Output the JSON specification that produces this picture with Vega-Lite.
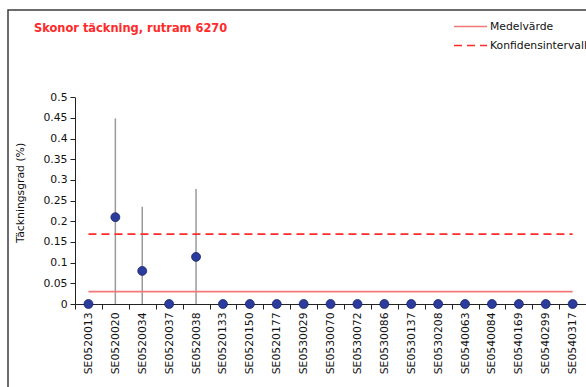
{
  "$schema": "https://vega.github.io/schema/vega-lite/v6.json",
  "width": 600,
  "height": 400,
  "autosize": "none",
  "padding": {"left": 8, "top": 10, "right": 0, "bottom": 0},
  "background": "white",
  "config": {
    "view": {"stroke": "#3c3c3c", "strokeWidth": 1.5, "fill": "white"},
    "font": "DejaVu Sans"
  },
  "title": {
    "text": "Skonor täckning, rutram 6270",
    "anchor": "start",
    "frame": "group",
    "orient": "top",
    "offset": 0,
    "dx": 26,
    "dy": 34.3,
    "baseline": "alphabetic",
    "font": "DejaVu Sans Condensed, Liberation Sans",
    "fontSize": 12.7,
    "fontWeight": "bold",
    "color": "#FF2A2A"
  },
  "data": {
    "values": [
      {"station": "SE0520013", "varde": 0, "lo": null, "hi": null, "Medelvärde": 0.03, "Konfidensintervall": 0.169},
      {"station": "SE0520020", "varde": 0.21, "lo": 0, "hi": 0.449, "Medelvärde": 0.03, "Konfidensintervall": 0.169},
      {"station": "SE0520034", "varde": 0.08, "lo": 0, "hi": 0.235, "Medelvärde": 0.03, "Konfidensintervall": 0.169},
      {"station": "SE0520037", "varde": 0, "lo": null, "hi": null, "Medelvärde": 0.03, "Konfidensintervall": 0.169},
      {"station": "SE0520038", "varde": 0.114, "lo": 0, "hi": 0.278, "Medelvärde": 0.03, "Konfidensintervall": 0.169},
      {"station": "SE0520133", "varde": 0, "lo": null, "hi": null, "Medelvärde": 0.03, "Konfidensintervall": 0.169},
      {"station": "SE0520150", "varde": 0, "lo": null, "hi": null, "Medelvärde": 0.03, "Konfidensintervall": 0.169},
      {"station": "SE0520177", "varde": 0, "lo": null, "hi": null, "Medelvärde": 0.03, "Konfidensintervall": 0.169},
      {"station": "SE0530029", "varde": 0, "lo": null, "hi": null, "Medelvärde": 0.03, "Konfidensintervall": 0.169},
      {"station": "SE0530070", "varde": 0, "lo": null, "hi": null, "Medelvärde": 0.03, "Konfidensintervall": 0.169},
      {"station": "SE0530072", "varde": 0, "lo": null, "hi": null, "Medelvärde": 0.03, "Konfidensintervall": 0.169},
      {"station": "SE0530086", "varde": 0, "lo": null, "hi": null, "Medelvärde": 0.03, "Konfidensintervall": 0.169},
      {"station": "SE0530137", "varde": 0, "lo": null, "hi": null, "Medelvärde": 0.03, "Konfidensintervall": 0.169},
      {"station": "SE0530208", "varde": 0, "lo": null, "hi": null, "Medelvärde": 0.03, "Konfidensintervall": 0.169},
      {"station": "SE0540063", "varde": 0, "lo": null, "hi": null, "Medelvärde": 0.03, "Konfidensintervall": 0.169},
      {"station": "SE0540084", "varde": 0, "lo": null, "hi": null, "Medelvärde": 0.03, "Konfidensintervall": 0.169},
      {"station": "SE0540169", "varde": 0, "lo": null, "hi": null, "Medelvärde": 0.03, "Konfidensintervall": 0.169},
      {"station": "SE0540299", "varde": 0, "lo": null, "hi": null, "Medelvärde": 0.03, "Konfidensintervall": 0.169},
      {"station": "SE0540317", "varde": 0, "lo": null, "hi": null, "Medelvärde": 0.03, "Konfidensintervall": 0.169}
    ]
  },
  "encoding": {
    "x": {
      "field": "station",
      "type": "nominal",
      "sort": null,
      "title": null,
      "scale": {
        "type": "band",
        "domain": ["SE0520013", "SE0520020", "SE0520034", "SE0520037", "SE0520038", "SE0520133", "SE0520150", "SE0520177", "SE0530029", "SE0530070", "SE0530072", "SE0530086", "SE0530137", "SE0530208", "SE0540063", "SE0540084", "SE0540169", "SE0540299", "SE0540317"],
        "range": [67, 578.1],
        "paddingInner": 0,
        "paddingOuter": 0
      },
      "axis": {
        "orient": "bottom",
        "offset": -106,
        "labelAngle": -90,
        "labelAlign": "right",
        "labelBaseline": "middle",
        "labelFont": "DejaVu Sans",
        "labelFontSize": 10.8,
        "labelColor": "#111",
        "labelPadding": 3,
        "tickBand": "extent",
        "tickSize": 5,
        "tickColor": "#222",
        "domainColor": "#222",
        "domainWidth": 1,
        "labelOverlap": false
      }
    }
  },
  "layer": [
    {
      "transform": [{"filter": "datum.hi != null"}],
      "mark": {"type": "rule", "color": "#9a9a9a", "strokeWidth": 1.5},
      "encoding": {
        "y": {
          "field": "lo",
          "type": "quantitative",
          "title": "Täckningsgrad  (%)",
          "scale": {"domain": [0, 0.5], "range": [294, 87.3], "nice": false, "zero": true},
          "axis": {
            "orient": "left",
            "offset": -67,
            "values": [0, 0.05, 0.1, 0.15, 0.2, 0.25, 0.3, 0.35, 0.4, 0.45, 0.5],
            "tickCount": 11,
            "labelExpr": "'' + datum.value",
            "labelOverlap": false,
            "labelFlush": false,
            "grid": false,
            "tickSize": 5,
            "tickColor": "#222",
            "domainColor": "#222",
            "labelPadding": 3,
            "labelFont": "DejaVu Sans",
            "labelFontSize": 10.8,
            "labelColor": "#111",
            "titleFont": "DejaVu Sans",
            "titleFontSize": 10.8,
            "titleFontWeight": "normal",
            "titleColor": "#111",
            "titleAngle": -90,
            "titleAlign": "center",
            "titleBaseline": "middle",
            "titleX": -55,
            "titleY": 182.5
          }
        },
        "y2": {"field": "hi"}
      }
    },
    {
      "transform": [{"fold": ["Medelvärde", "Konfidensintervall"], "as": ["serie", "niva"]}],
      "mark": {"type": "line", "strokeWidth": 1.8},
      "encoding": {
        "y": {"field": "niva", "type": "quantitative"},
        "color": {
          "field": "serie",
          "type": "nominal",
          "scale": {"domain": ["Medelvärde", "Konfidensintervall"], "range": ["#F07878", "#FF2A2A"]},
          "legend": {
            "title": null,
            "orient": "none",
            "legendX": 456.5,
            "legendY": 10.5,
            "padding": 0,
            "symbolType": "M-3.3,0H3.3",
            "symbolSize": 100,
            "symbolStrokeWidth": 1.6,
            "labelOffset": 13.5,
            "labelFont": "DejaVu Sans",
            "labelFontSize": 10.8,
            "labelColor": "#111",
            "rowPadding": 8
          }
        },
        "strokeDash": {
          "field": "serie",
          "type": "nominal",
          "scale": {"domain": ["Medelvärde", "Konfidensintervall"], "range": [[1, 0], [8, 5]]},
          "legend": null
        }
      }
    },
    {
      "mark": {"type": "point", "shape": "circle", "filled": true, "size": 80, "color": "#2C3C9C", "stroke": "#1A246A", "strokeWidth": 0.8, "opacity": 1},
      "encoding": {
        "y": {"field": "varde", "type": "quantitative"}
      }
    }
  ]
}
